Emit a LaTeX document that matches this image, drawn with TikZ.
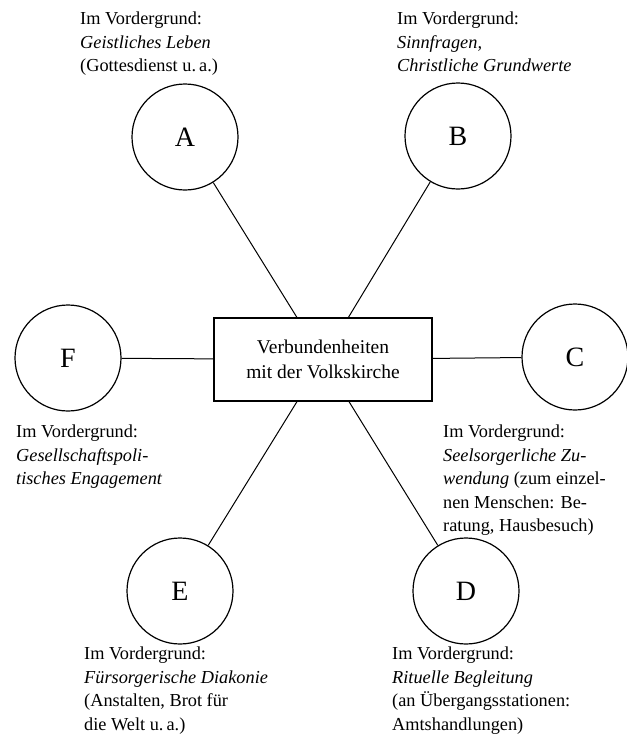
\documentclass[tikz,border=0pt]{standalone}
\usepackage{fontspec}
\setmainfont{Liberation Serif}
\begin{document}
\begin{tikzpicture}[x=1pt,y=-1pt,
  ring/.style={draw,circle,line width=1.2pt,minimum size=106pt,inner sep=0pt,font=\fontsize{28}{30}\selectfont},
  note/.style={anchor=north west,align=left,inner sep=0pt,font=\fontsize{18.3}{23.5}\selectfont}]
\useasboundingbox (0,0) rectangle (627,740);
% the box in the middle
\node[draw,line width=1.2pt,minimum width=218pt,minimum height=83pt,align=center,font=\fontsize{19.5}{24.5}\selectfont] (kirche) at (323,359.5) {Verbundenheiten\\mit der Volkskirche};
% the six circles
\node[ring] (A) at (185,137) {A};
\node[ring] (B) at (458,136) {B};
\node[ring] (C) at (575,357) {C};
\node[ring] (D) at (466,591) {D};
\node[ring] (E) at (180,591) {E};
\node[ring] (F) at (68,358) {F};
% the lines to the box
\foreach \n in {A,B,C,D,E,F}
  \draw[line width=1pt] (\n) -- (kirche);
% the texts at the circles
\node[note] (textA) at (80,12) {Im Vordergrund:\\\textit{Geistliches Leben}\\(Gottesdienst u.\,a.)};
\node[note] (textB) at (397,12) {Im Vordergrund:\\\textit{Sinnfragen,}\\\textit{Christliche Grundwerte}};
\node[note] (textF) at (16,425) {Im Vordergrund:\\\textit{Gesellschaftspoli-}\\\textit{tisches Engagement}};
\node[note] (textC) at (443,425) {Im Vordergrund:\\\textit{Seelsorgerliche Zu-}\\\textit{wendung} (zum einzel-\\nen Menschen: Be-\\ratung, Hausbesuch)};
\node[note] (textE) at (84,647) {Im Vordergrund:\\\textit{Fürsorgerische Diakonie}\\(Anstalten, Brot für\\die Welt u.\,a.)};
\node[note] (textD) at (392,647) {Im Vordergrund:\\\textit{Rituelle Begleitung}\\(an Übergangsstationen:\\Amtshandlungen)};
\end{tikzpicture}
\end{document}
